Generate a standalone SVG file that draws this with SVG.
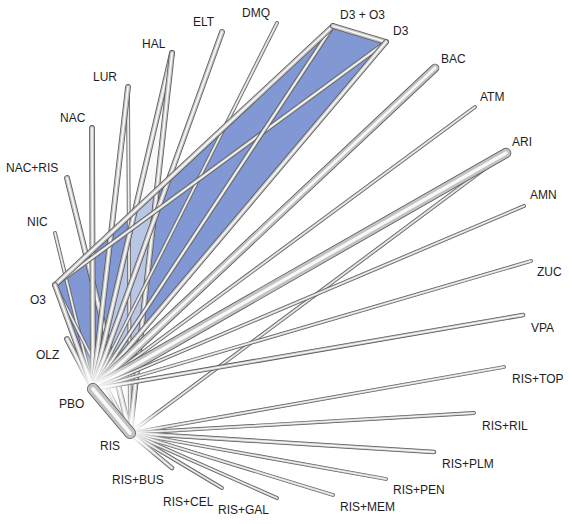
<svg xmlns="http://www.w3.org/2000/svg" xmlns:xlink="http://www.w3.org/1999/xlink" width="572" height="524" viewBox="0 0 572 524">
<style>
.o{stroke:#5a5a5a;stroke-linecap:round;fill:none}
.m{stroke:#c2c2c2;stroke-linecap:round;fill:none}
.h{stroke:#f8f8f8;stroke-linecap:round;fill:none}
.w1 .o{stroke-width:3.8}.w1 .m{stroke-width:2.4}.w1 .h{stroke-width:1}
.w15 .o{stroke-width:4.6}.w15 .m{stroke-width:3}.w15 .h{stroke-width:1.3}
.w2 .o{stroke-width:5.8}.w2 .m{stroke-width:4.2}.w2 .h{stroke-width:1.7}
.w3 .o{stroke-width:8.6}.w3 .m{stroke-width:7}.w3 .h{stroke-width:2.6}
.w4 .o{stroke-width:10.5}.w4 .m{stroke-width:8.9}.w4 .h{stroke-width:3.2}
.w5 .o{stroke-width:12}.w5 .m{stroke-width:10.4}.w5 .h{stroke-width:3.6}
text{font-family:"Liberation Sans",Arial,sans-serif;font-size:12px;fill:#1e1e1e}
</style>
<defs>
<radialGradient id="glow">
<stop offset="0" stop-color="#fff" stop-opacity="1"/>
<stop offset="0.35" stop-color="#fff" stop-opacity="0.75"/>
<stop offset="1" stop-color="#fff" stop-opacity="0"/>
</radialGradient>
<line id="lPR" x1="93" y1="389" x2="130" y2="433"/>
<line id="lO3" x1="93" y1="389" x2="55" y2="285"/>
<line id="lOLZ" x1="93" y1="389" x2="67" y2="339"/>
<line id="lNIC" x1="93" y1="389" x2="55" y2="233"/>
<line id="lNAC" x1="93" y1="389" x2="92" y2="128"/>
<line id="lLUR" x1="93" y1="389" x2="128" y2="87"/>
<line id="lLURr" x1="130" y1="433" x2="128" y2="87"/>
<line id="lHAL" x1="93" y1="389" x2="172" y2="53"/>
<line id="lHALr" x1="130" y1="433" x2="172" y2="53"/>
<line id="lELT" x1="93" y1="389" x2="222" y2="32"/>
<line id="lDMQ" x1="93" y1="389" x2="277" y2="23"/>
<line id="lDO" x1="93" y1="389" x2="333" y2="26"/>
<line id="lD3" x1="93" y1="389" x2="386" y2="42"/>
<line id="lO3DO" x1="55" y1="285" x2="333" y2="26"/>
<line id="lDOD3" x1="333" y1="26" x2="386" y2="42"/>
<line id="lO3D3" x1="55" y1="285" x2="386" y2="42"/>
<line id="lBAC" x1="93" y1="389" x2="435" y2="68"/>
<line id="lATM" x1="93" y1="389" x2="475" y2="107"/>
<line id="lARI" x1="93" y1="389" x2="506" y2="153"/>
<line id="lARIr" x1="130" y1="433" x2="506" y2="153"/>
<line id="lAMN" x1="93" y1="389" x2="524" y2="206"/>
<line id="lZUC" x1="93" y1="389" x2="531" y2="261"/>
<line id="lVPA" x1="93" y1="389" x2="523" y2="315"/>
<line id="lNR" x1="130" y1="433" x2="67" y2="178"/>
<line id="lO3r" x1="130" y1="433" x2="55" y2="285"/>
<line id="lTOP" x1="130" y1="433" x2="504" y2="367"/>
<line id="lRIL" x1="130" y1="433" x2="474" y2="413"/>
<line id="lPLM" x1="130" y1="433" x2="434" y2="452"/>
<line id="lPEN" x1="130" y1="433" x2="386" y2="479"/>
<line id="lMEM" x1="130" y1="433" x2="333" y2="495"/>
<line id="lGAL" x1="130" y1="433" x2="277" y2="498"/>
<line id="lCEL" x1="130" y1="433" x2="222" y2="488"/>
<line id="lBUS" x1="130" y1="433" x2="172" y2="468"/>
</defs>
<rect width="572" height="524" fill="#fff"/>
<g id="multiarm">
<polygon points="55,285 333,26 386,42 93,389" fill="#8298d4"/>
<polygon points="172,53 93,389 130,433" fill="#f2f4f8" fill-opacity="0.5"/>
</g>
<g id="connectors">
<g class="w1"><use href="#lNIC" class="o"/><use href="#lNIC" class="m"/><use href="#lNIC" class="h"/></g>
<g class="w1"><use href="#lO3r" class="o"/><use href="#lO3r" class="m"/><use href="#lO3r" class="h"/></g>
<g class="w2"><use href="#lOLZ" class="o"/><use href="#lOLZ" class="m"/><use href="#lOLZ" class="h"/></g>
<g class="w2"><use href="#lNR" class="o"/><use href="#lNR" class="m"/><use href="#lNR" class="h"/></g>
<g class="w2"><use href="#lNAC" class="o"/><use href="#lNAC" class="m"/><use href="#lNAC" class="h"/></g>
<g class="w1"><use href="#lLURr" class="o"/><use href="#lLURr" class="m"/><use href="#lLURr" class="h"/></g>
<g class="w2"><use href="#lLUR" class="o"/><use href="#lLUR" class="m"/><use href="#lLUR" class="h"/></g>
<g class="w2"><use href="#lHAL" class="o"/><use href="#lHAL" class="m"/><use href="#lHAL" class="h"/></g>
<g class="w2"><use href="#lHALr" class="o"/><use href="#lHALr" class="m"/><use href="#lHALr" class="h"/></g>
<g class="w2"><use href="#lELT" class="o"/><use href="#lELT" class="m"/><use href="#lELT" class="h"/></g>
<g class="w1"><use href="#lDMQ" class="o"/><use href="#lDMQ" class="m"/><use href="#lDMQ" class="h"/></g>
<g class="w15"><use href="#lO3D3" class="o"/><use href="#lO3D3" class="m"/><use href="#lO3D3" class="h"/></g>
<g class="w15"><use href="#lDO" class="o"/><use href="#lDO" class="m"/><use href="#lDO" class="h"/></g>
<g class="w2"><use href="#lO3DO" class="o"/><use href="#lO3DO" class="m"/><use href="#lO3DO" class="h"/></g>
<g class="w2"><use href="#lDOD3" class="o"/><use href="#lDOD3" class="m"/><use href="#lDOD3" class="h"/></g>
<g class="w2"><use href="#lD3" class="o"/><use href="#lD3" class="m"/><use href="#lD3" class="h"/></g>
<g class="w2"><use href="#lO3" class="o"/><use href="#lO3" class="m"/><use href="#lO3" class="h"/></g>
<g class="w3"><use href="#lBAC" class="o"/><use href="#lBAC" class="m"/><use href="#lBAC" class="h"/></g>
<g class="w1"><use href="#lATM" class="o"/><use href="#lATM" class="m"/><use href="#lATM" class="h"/></g>
<g class="w1"><use href="#lARIr" class="o"/><use href="#lARIr" class="m"/><use href="#lARIr" class="h"/></g>
<g class="w4"><use href="#lARI" class="o"/><use href="#lARI" class="m"/><use href="#lARI" class="h"/></g>
<g class="w1"><use href="#lAMN" class="o"/><use href="#lAMN" class="m"/><use href="#lAMN" class="h"/></g>
<g class="w1"><use href="#lZUC" class="o"/><use href="#lZUC" class="m"/><use href="#lZUC" class="h"/></g>
<g class="w15"><use href="#lVPA" class="o"/><use href="#lVPA" class="m"/><use href="#lVPA" class="h"/></g>
<g class="w1"><use href="#lTOP" class="o"/><use href="#lTOP" class="m"/><use href="#lTOP" class="h"/></g>
<g class="w1"><use href="#lRIL" class="o"/><use href="#lRIL" class="m"/><use href="#lRIL" class="h"/></g>
<g class="w15"><use href="#lPLM" class="o"/><use href="#lPLM" class="m"/><use href="#lPLM" class="h"/></g>
<g class="w1"><use href="#lPEN" class="o"/><use href="#lPEN" class="m"/><use href="#lPEN" class="h"/></g>
<g class="w1"><use href="#lMEM" class="o"/><use href="#lMEM" class="m"/><use href="#lMEM" class="h"/></g>
<g class="w1"><use href="#lGAL" class="o"/><use href="#lGAL" class="m"/><use href="#lGAL" class="h"/></g>
<g class="w1"><use href="#lCEL" class="o"/><use href="#lCEL" class="m"/><use href="#lCEL" class="h"/></g>
<g class="w15"><use href="#lBUS" class="o"/><use href="#lBUS" class="m"/><use href="#lBUS" class="h"/></g>
<circle cx="95" cy="388" r="42" fill="url(#glow)"/>
<circle cx="131" cy="432" r="34" fill="url(#glow)"/>
<g class="w5"><use href="#lPR" class="o"/><use href="#lPR" class="m"/><use href="#lPR" class="h"/></g>
</g>
<g id="node-PBO"><text x="59" y="408">PBO</text></g>
<g id="node-RIS"><text x="100" y="450">RIS</text></g>
<g id="node-O3"><text x="30" y="304">O3</text></g>
<g id="node-OLZ"><text x="36" y="359">OLZ</text></g>
<g id="node-NIC"><text x="27" y="226">NIC</text></g>
<g id="node-NACRIS"><text x="6" y="172">NAC+RIS</text></g>
<g id="node-NAC"><text x="60" y="122">NAC</text></g>
<g id="node-LUR"><text x="93" y="81">LUR</text></g>
<g id="node-HAL"><text x="142" y="48">HAL</text></g>
<g id="node-ELT"><text x="193" y="26">ELT</text></g>
<g id="node-DMQ"><text x="242" y="17">DMQ</text></g>
<g id="node-D3O3"><text x="340" y="19">D3 + O3</text></g>
<g id="node-D3"><text x="393" y="35">D3</text></g>
<g id="node-BAC"><text x="441" y="63">BAC</text></g>
<g id="node-ATM"><text x="480" y="101">ATM</text></g>
<g id="node-ARI"><text x="512" y="146">ARI</text></g>
<g id="node-AMN"><text x="530" y="199">AMN</text></g>
<g id="node-ZUC"><text x="537" y="276">ZUC</text></g>
<g id="node-VPA"><text x="531" y="332">VPA</text></g>
<g id="node-RISTOP"><text x="512" y="383">RIS+TOP</text></g>
<g id="node-RISRIL"><text x="482" y="430">RIS+RIL</text></g>
<g id="node-RISPLM"><text x="442" y="468">RIS+PLM</text></g>
<g id="node-RISPEN"><text x="393" y="494">RIS+PEN</text></g>
<g id="node-RISMEM"><text x="340" y="511">RIS+MEM</text></g>
<g id="node-RISGAL"><text x="218" y="514">RIS+GAL</text></g>
<g id="node-RISCEL"><text x="163" y="506">RIS+CEL</text></g>
<g id="node-RISBUS"><text x="112" y="484">RIS+BUS</text></g>
</svg>
